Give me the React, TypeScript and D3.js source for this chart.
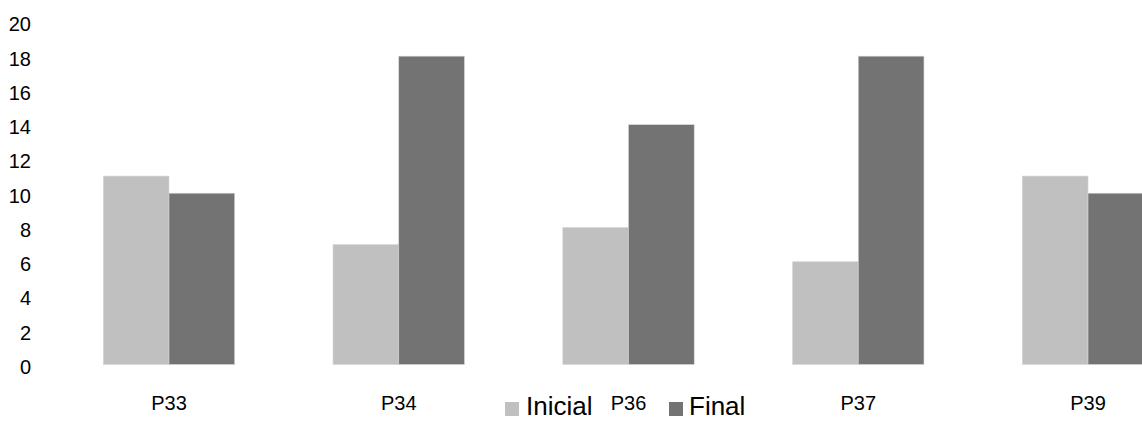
import React from "react";
import * as d3 from "d3";

const categories = ["P33", "P34", "P36", "P37", "P39"];
const seriesNames = ["Inicial", "Final"];
const inicialValues = [11, 7, 8, 6, 11];
const finalValues = [10, 18, 14, 18, 10];
const yTicks = [0, 2, 4, 6, 8, 10, 12, 14, 16, 18, 20];

const colors: Record<string, string> = { Inicial: "#c0c0c0", Final: "#737373" };
const FONT = "'Liberation Sans', Arial, sans-serif";

export default function App() {
  const W = 1142;
  const H = 421;
  const y = d3.scaleLinear().domain([0, 20]).range([364.5, 21.9]);
  const x = d3
    .scaleBand<string>()
    .domain(categories)
    .range([54.1, 1202.9])
    .paddingInner(0.428)
    .paddingOuter(0.214);
  const xs = d3.scaleBand<string>().domain(seriesNames).range([0, x.bandwidth()]);
  const values: Record<string, number[]> = { Inicial: inicialValues, Final: finalValues };

  const legend = [
    { name: "Inicial", sx: 505, tx: 526 },
    { name: "Final", sx: 669, tx: 689 },
  ];

  return (
    <svg
      width={W}
      height={H}
      style={{ position: "absolute", left: 0, top: 0, display: "block", background: "#fff" }}
      fontFamily={FONT}
    >
      {yTicks.map((t) => (
        <text key={t} x={31} y={y(t) + 9.5} textAnchor="end" fontSize={20} fill="#000">
          {t}
        </text>
      ))}
      {categories.map((c, i) =>
        seriesNames.map((s) => {
          const v = values[s][i];
          return (
            <rect
              key={c + s}
              x={(x(c) as number) + (xs(s) as number)}
              y={y(v)}
              width={xs.bandwidth()}
              height={y(0) - y(v)}
              fill={colors[s]}
              stroke="#d6d6d6"
              strokeWidth={0.6}
            />
          );
        })
      )}
      {categories.map((c) => (
        <text
          key={c}
          x={(x(c) as number) + x.bandwidth() / 2}
          y={410}
          textAnchor="middle"
          fontSize={20}
          fill="#000"
        >
          {c}
        </text>
      ))}
      {legend.map((l) => (
        <g key={l.name}>
          <rect x={l.sx} y={402} width={14} height={14} fill={colors[l.name]} />
          <text x={l.tx} y={415} fontSize={26} fill="#000">
            {l.name}
          </text>
        </g>
      ))}
    </svg>
  );
}
